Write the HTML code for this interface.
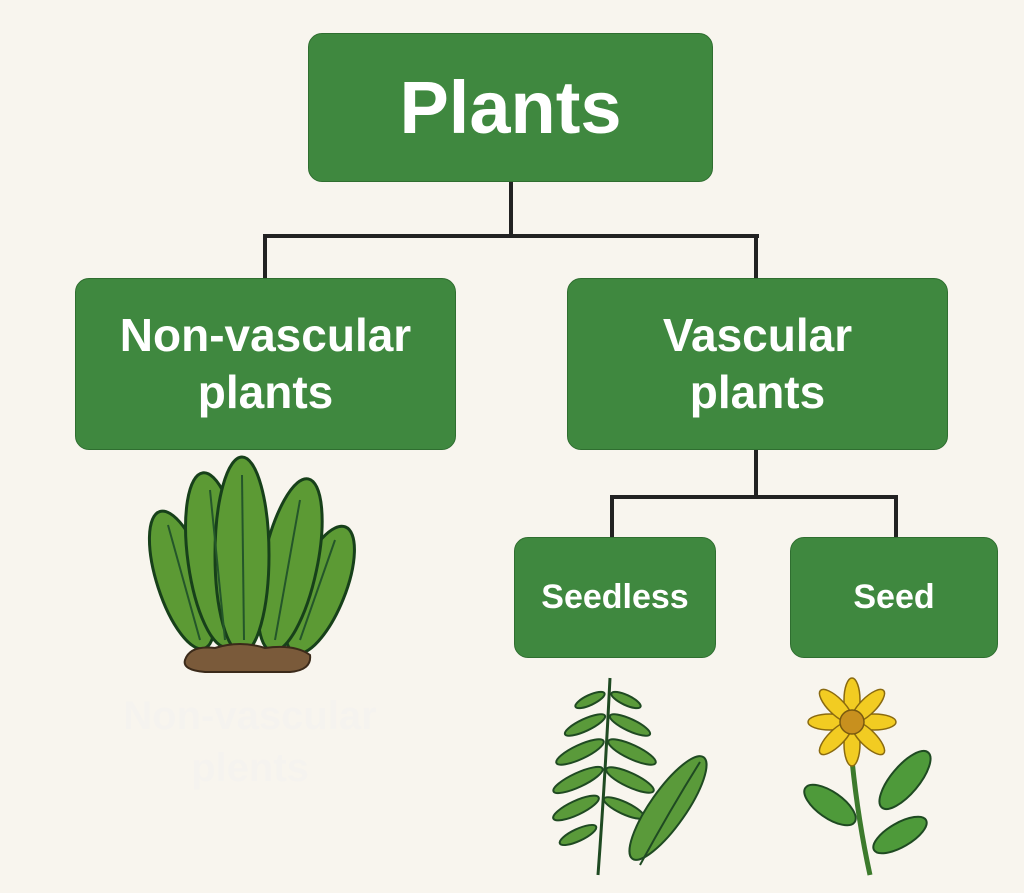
<!DOCTYPE html>
<html><head><style>
html,body{margin:0;padding:0;background:#f8f5ee;}
body{width:1024px;height:893px;position:relative;overflow:hidden;font-family:"Liberation Sans","DejaVu Sans",sans-serif;}
.b{position:absolute;background:#3f883f;border-radius:14px;color:#fff;font-weight:bold;display:flex;align-items:center;justify-content:center;text-align:center;border:1px solid #2f6e30;box-sizing:border-box;}
.ln{position:absolute;background:#222;}
.ghost{position:absolute;color:#f5f3ef;font-weight:bold;font-size:40px;text-align:center;line-height:52px;}
</style></head><body>
<div class="ln" style="left:509px;top:182px;width:4px;height:56px"></div>
<div class="ln" style="left:263px;top:234px;width:496px;height:4px"></div>
<div class="ln" style="left:263px;top:234px;width:4px;height:46px"></div>
<div class="ln" style="left:754px;top:234px;width:4px;height:46px"></div>
<div class="ln" style="left:754px;top:450px;width:4px;height:49px"></div>
<div class="ln" style="left:610px;top:495px;width:288px;height:4px"></div>
<div class="ln" style="left:610px;top:495px;width:4px;height:44px"></div>
<div class="ln" style="left:894px;top:495px;width:4px;height:44px"></div>

<div class="b" style="left:308px;top:33px;width:405px;height:149px;font-size:74px">Plants</div>
<div class="b" style="left:75px;top:278px;width:381px;height:172px;font-size:46px;line-height:57px">Non-vascular<br>plants</div>
<div class="b" style="left:567px;top:278px;width:381px;height:172px;font-size:46px;line-height:57px">Vascular<br>plants</div>
<div class="b" style="left:514px;top:537px;width:202px;height:121px;font-size:34px">Seedless</div>
<div class="b" style="left:790px;top:537px;width:208px;height:121px;font-size:34px">Seed</div>

<div class="ghost" style="left:90px;top:690px;width:320px">Non-vascular<br>plents</div>

<svg width="1024" height="893" style="position:absolute;left:0;top:0" viewBox="0 0 1024 893">
<g stroke="#17401a" stroke-width="3" fill="#5c9a34">
<ellipse cx="182" cy="580" rx="25" ry="72" transform="rotate(-18 182 580)"/>
<ellipse cx="320" cy="590" rx="25" ry="68" transform="rotate(22 320 590)"/>
<ellipse cx="215" cy="560" rx="27" ry="88" transform="rotate(-8 215 560)"/>
<ellipse cx="290" cy="565" rx="27" ry="88" transform="rotate(12 290 565)"/>
<ellipse cx="242" cy="555" rx="27" ry="98"/>
</g>
<g stroke="#24562a" stroke-width="2" fill="none">
<line x1="168" y1="525" x2="200" y2="640"/><line x1="210" y1="490" x2="225" y2="640"/>
<line x1="242" y1="475" x2="244" y2="640"/><line x1="300" y1="500" x2="275" y2="640"/><line x1="335" y1="540" x2="300" y2="640"/>
</g>
<path d="M185 660 Q190 645 215 648 Q240 640 265 648 Q295 644 310 655 Q312 670 290 672 L205 672 Q182 670 185 660Z" fill="#7a5a3a" stroke="#3b2a1a" stroke-width="2"/>

<g stroke="#1f4a22" stroke-width="2" fill="#5a9a3a">
<path d="M610 678 Q605 780 598 875" fill="none" stroke-width="3"/>
<ellipse cx="590" cy="700" rx="16" ry="5" transform="rotate(-25 590 700)"/><ellipse cx="626" cy="700" rx="16" ry="5" transform="rotate(25 626 700)"/>
<ellipse cx="585" cy="725" rx="22" ry="6" transform="rotate(-25 585 725)"/><ellipse cx="630" cy="725" rx="22" ry="6" transform="rotate(25 630 725)"/>
<ellipse cx="580" cy="752" rx="26" ry="7" transform="rotate(-25 580 752)"/><ellipse cx="632" cy="752" rx="26" ry="7" transform="rotate(25 632 752)"/>
<ellipse cx="578" cy="780" rx="27" ry="7" transform="rotate(-25 578 780)"/><ellipse cx="630" cy="780" rx="26" ry="7" transform="rotate(25 630 780)"/>
<ellipse cx="576" cy="808" rx="25" ry="7" transform="rotate(-25 576 808)"/><ellipse cx="624" cy="808" rx="22" ry="6" transform="rotate(25 624 808)"/>
<ellipse cx="578" cy="835" rx="20" ry="6" transform="rotate(-25 578 835)"/>
<ellipse cx="668" cy="808" rx="18" ry="62" transform="rotate(35 668 808)"/>
<path d="M700 762 Q670 810 640 865" fill="none"/>
</g>

<g stroke="#1f4a22" stroke-width="2" fill="#4e9a3a">
<path d="M852 760 Q858 820 870 875" fill="none" stroke="#3c7a2c" stroke-width="5"/>
<ellipse cx="830" cy="805" rx="30" ry="13" transform="rotate(35 830 805)"/>
<ellipse cx="905" cy="780" rx="36" ry="14" transform="rotate(-50 905 780)"/>
<ellipse cx="900" cy="835" rx="30" ry="12" transform="rotate(-30 900 835)"/>
</g>
<g fill="#f2cc22" stroke="#8a6a10" stroke-width="1.5">
<ellipse cx="852" cy="700" rx="8" ry="22"/><ellipse cx="852" cy="744" rx="8" ry="22"/>
<ellipse cx="830" cy="722" rx="22" ry="8"/><ellipse cx="874" cy="722" rx="22" ry="8"/>
<ellipse cx="836" cy="706" rx="8" ry="22" transform="rotate(-45 836 706)"/><ellipse cx="868" cy="738" rx="8" ry="22" transform="rotate(-45 868 738)"/>
<ellipse cx="868" cy="706" rx="8" ry="22" transform="rotate(45 868 706)"/><ellipse cx="836" cy="738" rx="8" ry="22" transform="rotate(45 836 738)"/>
</g>
<circle cx="852" cy="722" r="12" fill="#c8901e" stroke="#7a5a10" stroke-width="1.5"/>
</svg>
</body></html>
